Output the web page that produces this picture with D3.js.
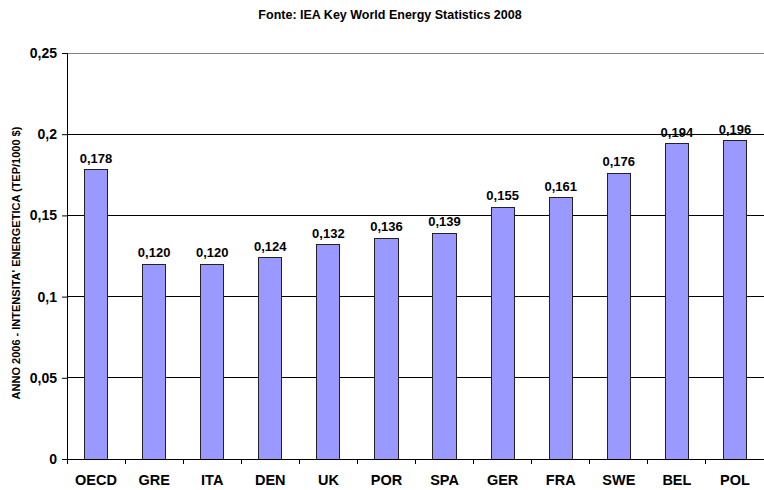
<!DOCTYPE html>
<html lang="it">
<head>
    <meta charset="utf-8">
    <script type="text/javascript" src="https://d3js.org/d3.v7.min.js"></script>
    <title>Intensita' energetica 2006</title>
    <style>
        * { font-family: "Liberation Sans", Arial, sans-serif; }
        html, body { margin: 0; padding: 0; background: white; }
    </style>
</head>
<body>
    <div id="chart"></div>

    <script type="text/javascript">

        // Data
        const countries = ["OECD", "GRE", "ITA", "DEN", "UK", "POR", "SPA", "GER", "FRA", "SWE", "BEL", "POL"];
        const intensity = [0.178, 0.120, 0.120, 0.124, 0.132, 0.136, 0.139, 0.155, 0.161, 0.176, 0.194, 0.196];
        const yTicks = [0, 0.05, 0.1, 0.15, 0.2, 0.25];

        const titleText = "Fonte: IEA Key World Energy Statistics 2008";
        const yLabel = "ANNO 2006 - INTENSITA' ENERGETICA (TEP/1000 $)";

        const W = 764, H = 490;
        const margin = {top: 53, right: 0, bottom: 31, left: 67};
        const width = W - margin.left - margin.right,
              height = H - margin.top - margin.bottom;

        const svg = d3.select("#chart")
            .append("svg")
                .attr("width", W)
                .attr("height", H);

        const g = svg.append("g")
            .attr("transform", `translate(${margin.left},${margin.top})`);

        // Scales
        const x = d3.scaleBand()
            .domain(countries)
            .range([0, width])
            .paddingInner(0.6)
            .paddingOuter(0.3);

        const xTicks = d3.scaleBand().domain(countries).range([0, width]);

        const y = d3.scaleLinear()
            .domain([0, 0.25])
            .range([height, 0]);

        const fmt = v => String(v).replace(".", ",");

        // Grid lines
        g.append("g")
            .selectAll("line")
            .data(yTicks.filter(d => d > 0))
            .join("line")
                .attr("x1", 0)
                .attr("x2", width)
                .attr("y1", d => y(d))
                .attr("y2", d => y(d))
                .attr("stroke", d => d === 0.25 ? "#808080" : "#000")
                .attr("stroke-width", 1)
                .attr("shape-rendering", "crispEdges");

        // Y axis
        const yAxis = g.append("g")
            .call(d3.axisLeft(y).tickValues(yTicks).tickSize(5).tickPadding(5).tickFormat(fmt));
        yAxis.select(".domain").attr("stroke", "#000");
        yAxis.selectAll("text")
            .style("font-size", "14px")
            .style("font-weight", "bold")
            .attr("fill", "#000");

        // Bars
        g.selectAll(".bar")
            .data(countries)
            .join("rect")
                .attr("class", "bar")
                .attr("x", d => x(d))
                .attr("y", (d, i) => y(intensity[i]))
                .attr("width", x.bandwidth())
                .attr("height", (d, i) => height - y(intensity[i]))
                .attr("fill", "#9999FF")
                .attr("stroke", "#222")
                .attr("stroke-width", 1)
                .attr("shape-rendering", "crispEdges");

        // Value labels
        g.selectAll(".bar-label")
            .data(countries)
            .join("text")
                .attr("class", "bar-label")
                .attr("x", d => x(d) + x.bandwidth() / 2)
                .attr("y", (d, i) => y(intensity[i]) - 7)
                .attr("text-anchor", "middle")
                .style("font-size", "13px")
                .style("font-weight", "bold")
                .text((d, i) => intensity[i].toFixed(3).replace(".", ","));

        // X axis
        const xAxis = g.append("g")
            .attr("transform", `translate(0,${height})`)
            .call(d3.axisBottom(xTicks).tickSize(0).tickPadding(16));
        xAxis.select(".domain").attr("stroke", "#000");
        xAxis.selectAll("text")
            .style("font-size", "14.5px")
            .style("font-weight", "bold")
            .attr("fill", "#000");

        // X tick marks between categories
        xAxis.append("g")
            .selectAll("line")
            .data(countries)
            .join("line")
                .attr("x1", d => xTicks(d))
                .attr("x2", d => xTicks(d))
                .attr("y1", 0)
                .attr("y2", 5)
                .attr("stroke", "#000")
                .attr("shape-rendering", "crispEdges");

        // Title
        svg.append("text")
            .attr("x", 390)
            .attr("y", 19)
            .attr("text-anchor", "middle")
            .style("font-size", "12.5px")
            .style("font-weight", "bold")
            .text(titleText);

        // Y axis label
        svg.append("text")
            .attr("transform", `translate(20,${margin.top + 210}) rotate(-90)`)
            .attr("text-anchor", "middle")
            .style("font-size", "11px")
            .style("font-weight", "bold")
            .text(yLabel);

    </script>
</body>
</html>
